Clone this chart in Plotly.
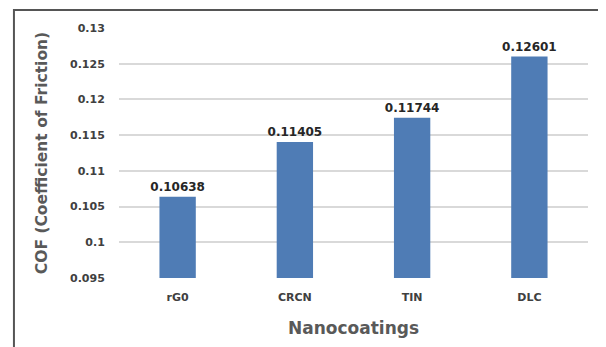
import plotly.graph_objects as go

categories = ["rG0", "CRCN", "TIN", "DLC"]
cof_values = [0.10638, 0.11405, 0.11744, 0.12601]
y_ticks = [0.095, 0.1, 0.105, 0.11, 0.115, 0.12, 0.125, 0.13]
y_tick_labels = ["0.095", "0.1", "0.105", "0.11", "0.115", "0.12", "0.125", "0.13"]

FONT = "DejaVu Sans"

fig = go.Figure(go.Bar(
    x=categories, y=cof_values,
    marker=dict(color="#4F7CB5", line=dict(width=0)),
    text=[f"{v:.5f}" for v in cof_values],
    textposition="outside",
    constraintext="none",
    textfont=dict(family=FONT, size=12, color="#262626", weight="bold"),
    cliponaxis=False,
))

fig.update_layout(
    width=606, height=347,
    margin=dict(l=111, r=26, t=20, b=77),
    paper_bgcolor="white", plot_bgcolor="white",
    bargap=0.69,
    showlegend=False,
    font=dict(family=FONT),
    xaxis=dict(
        automargin=False,
        showgrid=False, showline=False, ticks="outside", ticklen=9, tickcolor="rgba(0,0,0,0)",
        tickfont=dict(family=FONT, size=11, color="#404040", weight="bold"),
        title=dict(text="Nanocoatings", font=dict(family=FONT, size=17, color="#595959", weight="bold"), standoff=18),
    ),
    yaxis=dict(
        automargin=False,
        range=[0.095, 0.13], tickvals=y_ticks, ticktext=y_tick_labels,
        showgrid=True, gridcolor="#D9D9D9", gridwidth=1.5, zeroline=False,
        ticks="outside", ticklen=11, tickcolor="rgba(0,0,0,0)",
        tickfont=dict(family=FONT, size=11, color="#404040", weight="bold"),
        title=dict(text="COF (Coefficient of Friction)", font=dict(family=FONT, size=15.5, color="#595959", weight="bold"), standoff=18),
    ),
    shapes=[dict(type="rect", xref="paper", yref="paper",
                 x0=-0.224, x1=1.0256, y0=-0.3, y1=1.072,
                 line=dict(color="#555555", width=2), fillcolor="rgba(0,0,0,0)", layer="below")],
)

fig.write_html("out.html")
